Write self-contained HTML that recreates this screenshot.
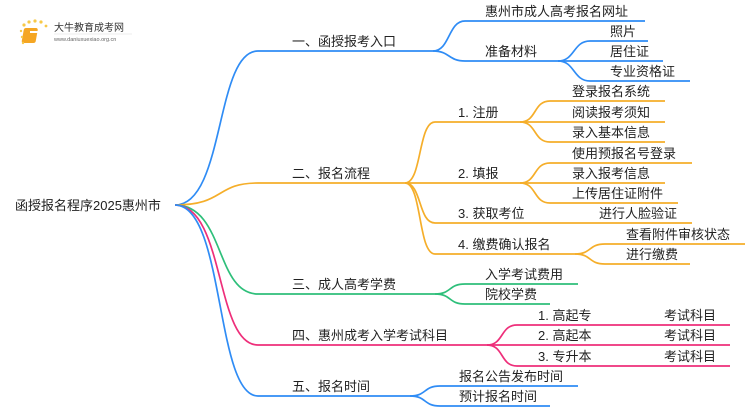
<!DOCTYPE html>
<html><head><meta charset="utf-8"><style>
body{margin:0;background:#fff;}
svg{display:block;font-family:"Liberation Sans","Noto Sans CJK SC",sans-serif;}
text{font-size:13px;fill:#222;}
</style></head><body>
<svg width="750" height="410" viewBox="0 0 750 410" xmlns="http://www.w3.org/2000/svg">
<g fill="none" stroke-width="1.7">
<path d="M175,205 C225,205 215,51 258,51 L433,51" stroke="#2f8cf5"/>
<path d="M175,205 C225,205 215,183 258,183 L405,183" stroke="#f5ae2a"/>
<path d="M175,205 C225,205 215,294 258,294 L435,294" stroke="#2ebf7a"/>
<path d="M175,205 C225,205 215,345 258,345 L487,345" stroke="#ee2f7a"/>
<path d="M175,205 C225,205 215,396 258,396 L410,396" stroke="#2f8cf5"/>
<g stroke="#2f8cf5">
<path d="M433,51 C450,51 448,21 465,21 L645,21"/>
<path d="M433,51 C450,51 448,61 465,61 L558,61"/>
<path d="M558,61 C575,61 573,41 590,41 L648,41"/>
<path d="M558,61 L663,61"/>
<path d="M558,61 C575,61 573,81 590,81 L690,81"/>
</g>
<g stroke="#f5ae2a">
<path d="M405,183 C422,183 418,122 435,122 L520,122"/>
<path d="M405,183 L520,183"/>
<path d="M405,183 C422,183 418,223 435,223 L692,223"/>
<path d="M405,183 C422,183 418,254 435,254 L575,254"/>
<path d="M520,122 C537,122 533,101 550,101 L665,101"/>
<path d="M520,122 L665,122"/>
<path d="M520,122 C537,122 533,142 550,142 L665,142"/>
<path d="M520,183 C537,183 533,163 550,163 L692,163"/>
<path d="M520,183 L665,183"/>
<path d="M520,183 C537,183 533,203 550,203 L678,203"/>
<path d="M575,254 C592,254 588,244 605,244 L745,244"/>
<path d="M575,254 C592,254 588,264 605,264 L690,264"/>
</g>
<g stroke="#2ebf7a">
<path d="M435,294 C452,294 448,284 465,284 L578,284"/>
<path d="M435,294 C452,294 448,304 465,304 L550,304"/>
</g>
<g stroke="#ee2f7a">
<path d="M487,345 C504,345 500,325 517,325 L730,325"/>
<path d="M487,345 L730,345"/>
<path d="M487,345 C504,345 500,366 517,366 L730,366"/>
</g>
<g stroke="#2f8cf5">
<path d="M410,396 C427,396 423,386 440,386 L578,386"/>
<path d="M410,396 C427,396 423,406 440,406 L550,406"/>
</g>
</g>
<g>
<rect x="29" y="28" width="14" height="15" rx="2" fill="#f5a623" transform="skewX(-10)"/>
<rect x="30" y="31" width="8" height="2" fill="#fff"/>
<circle cx="24" cy="25" r="1.6" fill="#f7c948"/><circle cx="29" cy="22" r="1.6" fill="#f7c948"/>
<circle cx="35" cy="21" r="1.6" fill="#f7c948"/><circle cx="41" cy="22" r="1.6" fill="#f7c948"/>
<circle cx="46" cy="26" r="1.4" fill="#f7c948"/><circle cx="21" cy="31" r="1.2" fill="#f7c948"/>
<circle cx="22" cy="37" r="1.2" fill="#f7c948"/><circle cx="23" cy="43" r="1.2" fill="#f7c948"/>
<text x="54" y="31" style="font-size:10px;fill:#333">大牛教育成考网</text>
<line x1="54" y1="34" x2="132" y2="34" stroke="#ddd" stroke-width="0.6"/>
<text x="54" y="41" style="font-size:5.5px;fill:#666">www.daniuxuexiao.org.cn</text>
</g>
<text x="15" y="210">函授报名程序2025惠州市</text>
<text x="292" y="46">一、函授报考入口</text>
<text x="292" y="178">二、报名流程</text>
<text x="292" y="289">三、成人高考学费</text>
<text x="292" y="340">四、惠州成考入学考试科目</text>
<text x="292" y="391">五、报名时间</text>
<text x="485" y="16">惠州市成人高考报名网址</text>
<text x="485" y="56">准备材料</text>
<text x="610" y="36">照片</text>
<text x="610" y="56">居住证</text>
<text x="610" y="76">专业资格证</text>
<text x="458" y="117">1. 注册</text>
<text x="458" y="178">2. 填报</text>
<text x="458" y="218">3. 获取考位</text>
<text x="458" y="249">4. 缴费确认报名</text>
<text x="572" y="96">登录报名系统</text>
<text x="572" y="117">阅读报考须知</text>
<text x="572" y="137">录入基本信息</text>
<text x="572" y="158">使用预报名号登录</text>
<text x="572" y="178">录入报考信息</text>
<text x="572" y="198">上传居住证附件</text>
<text x="599" y="218">进行人脸验证</text>
<text x="626" y="239">查看附件审核状态</text>
<text x="626" y="259">进行缴费</text>
<text x="485" y="279">入学考试费用</text>
<text x="485" y="299">院校学费</text>
<text x="538" y="320">1. 高起专</text>
<text x="538" y="340">2. 高起本</text>
<text x="538" y="361">3. 专升本</text>
<text x="664" y="320">考试科目</text>
<text x="664" y="340">考试科目</text>
<text x="664" y="361">考试科目</text>
<text x="459" y="381">报名公告发布时间</text>
<text x="459" y="401">预计报名时间</text>
</svg>
</body></html>
